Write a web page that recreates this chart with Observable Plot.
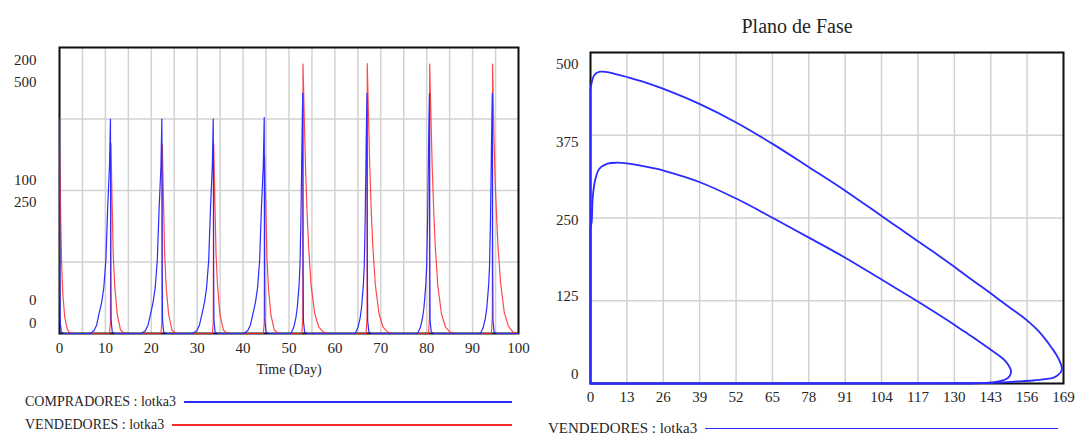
<!DOCTYPE html>
<html><head><meta charset="utf-8">
<script src="https://cdn.jsdelivr.net/npm/d3@7"></script>
<script src="https://cdn.jsdelivr.net/npm/@observablehq/plot@0.6"></script>
<style>
body{margin:0;background:#fff;}
#root{position:relative;width:1076px;height:436px;overflow:hidden;font-family:"Liberation Serif","Times New Roman",serif;color:#262626;background:#fff;}
.abs{position:absolute;}
.leg{position:absolute;display:flex;align-items:center;white-space:nowrap;line-height:1;}
.leg .ln{flex:1;margin-left:8px;height:1.5px;}
</style></head><body>
<div id="root">
  <div id="left" class="abs" style="left:0;top:0"></div>
  <div id="right" class="abs" style="left:530px;top:0"></div>
  <div id="title" class="abs" style="left:697px;top:16px;width:200px;text-align:center;font-size:20px;line-height:20px;"></div>
  <div id="leg1" class="leg" style="left:25px;top:395px;width:487px;height:14px;font-size:14px;"></div>
  <div id="leg2" class="leg" style="left:25px;top:418px;width:487px;height:14px;font-size:14px;"></div>
  <div id="leg3" class="leg" style="left:548px;top:421px;width:510px;height:15px;font-size:15px;"></div>
</div>
<script>
// ---------- data ----------
const chartTitle = "Plano de Fase";
const xTitle = "Time (Day)";
const seriesNames = ["COMPRADORES : lotka3", "VENDEDORES : lotka3"];
const phaseLegend = "VENDEDORES : lotka3";

const timeTicks = [0,10,20,30,40,50,60,70,80,90,100];
const compScaleLabels = [0,100,200];   // COMPRADORES scale (blue)
const vendScaleLabels = [0,250,500];   // VENDEDORES scale (red)
const phaseXTicks = [0,13,26,39,52,65,78,91,104,117,130,143,156,169];
const phaseYTicks = [0,125,250,375,500];

// COMPRADORES (blue) over time
const compT = [0,0.08,0.15,0.4,1,
  6.6,7.5,8.1,8.6,9.2,9.65,10.1,10.5,10.9,11.1,11.18,11.25,11.5,12.1,
  17.8,18.7,19.3,19.8,20.4,20.85,21.3,21.7,22.1,22.3,22.38,22.45,22.7,23.3,
  29,29.9,30.5,31,31.6,32.05,32.5,32.9,33.3,33.5,33.58,33.65,33.9,34.5,
  40.1,41,41.6,42.1,42.7,43.15,43.6,44,44.4,44.6,44.68,44.75,45,45.6,
  50.4,51,51.5,51.8,52.2,52.4,52.6,52.8,52.9,53.0,53.07,53.14,53.4,54,
  64.4,65,65.5,65.8,66.2,66.4,66.6,66.8,66.9,67.0,67.07,67.14,67.4,68,
  78,78.6,79.1,79.4,79.8,80,80.2,80.4,80.5,80.6,80.67,80.74,81,81.6,
  91.7,92.3,92.8,93.1,93.5,93.7,93.9,94.1,94.2,94.3,94.37,94.44,94.7,95.3,100];
const compV = [150,40,8,1,0,
  0,2,6,13.8,22,32,51,88,118,150,45,9,1,0,
  0,2,6,13,22,32,51,87,117,150,45,9,1,0,
  0,2,6,13,22,32,51,88,118,150,45,9,1,0,
  0,2,6,13,22,32,51,88,118,151,45,9,1,0,
  0,4,11,18,34,48,80,128,150,168,50,9,1,0,
  0,4,11,18,34,48,80,128,150,168,50,9,1,0,
  0,4,11,18,34,48,80,128,150,168,50,9,1,0,
  0,4,11,18,34,48,80,128,150,168,50,9,1,0,0];

// VENDEDORES (red) over time
const vendT = [0,0.2,0.44,0.72,1.15,1.67,2.2,3,
  10.9,11.1,11.2,11.47,11.7,12.05,12.57,13.3,14,15,
  22.1,22.3,22.4,22.67,22.9,23.25,23.77,24.5,25.2,26.2,
  33.3,33.5,33.6,33.87,34.1,34.45,34.97,35.7,36.4,37.4,
  44.4,44.6,44.7,44.97,45.2,45.55,46.07,46.8,47.5,48.5,
  52.8,53.0,53.05,53.35,53.6,53.95,54.25,54.8,55.6,56.5,57.5,58.5,
  66.8,67.0,67.05,67.35,67.6,67.95,68.25,68.8,69.6,70.5,71.5,72.5,
  80.4,80.6,80.65,80.95,81.2,81.55,81.85,82.4,83.2,84.1,85.1,86.1,
  94.1,94.3,94.35,94.65,94.9,95.25,95.55,96.1,96.9,97.8,98.8,99.8,100];
const vendV = [323,232,128,69,28,8,1,0,
  0,20,332,227,139,81,34,6,1,0,
  0,20,331,228,140,80,34,6,1,0,
  0,20,332,226,139,81,33,6,1,0,
  0,18,311,215,132,77,32,6,1,0,
  0,29,471,370,290,210,155,85,35,11,2.5,0,
  0,29,472,368,292,208,154,86,35,11,2.5,0,
  0,29,471,370,290,210,155,85,35,11,2.5,0,
  0,29,471,345,270,200,150,88,37,13,2.5,0,0];

// Phase plane loops (horizontal value, vertical value)
const innerX = [0,135,140,143,146.3,149,150,150.2,149.3,148,146,143,140,135,130.1,123.5,117.1,110.9,104,91,78.2,65.2,52.2,39.1,26.1,22.8,17,13,9.5,6.1,3.1,1.6,0.8,0.4,0,0];
const innerY = [0,0,0.5,1.5,3.5,8,13,20,28,35,42,51,60,74.5,88.5,106.5,123.5,139.5,157,190,220,250,279,304,321.5,325,330,332.5,333.5,332,324,306,281,243.5,236,0];
const outerX = [0,140,146,152.5,158,162.4,165.5,167.4,168.4,168,166.5,164.5,162.5,160,157,154,151,146.5,143.2,136.5,130.1,122.1,117.1,110.5,104,91,78.2,65.2,52.2,39.1,26.1,19.5,13,9,6.1,3.5,2,1.1,0.4,0,0];
const outerY = [0,0.5,1.5,3,4.5,6.5,9,14,21,30,43,55.5,67,79.5,91.5,102,111,125,135.5,156,176,200,214.5,234,253,291.3,326.4,361.6,394,422,445,455,463,467.5,470.5,471,468.5,464,454,444,0];

// ---------- styling ----------
const BLUE = "#2b2bff", RED = "#ff2a2a", GRID = "#d2d2d2", TXT = "#262626";
const FONT = "'Liberation Serif','Times New Roman',serif";
const ratio = vendScaleLabels[2] / compScaleLabels[2];

const comp = compT.map((t,i) => ({t, v: compV[i]}));
const vend = vendT.map((t,i) => ({t, v: vendV[i]}));
const toPts = (X, Y) => X.map((x,i) => ({x, y: Y[i]}));
const inner = toPts(innerX, innerY);
const outer = toPts(outerX, outerY);
// curved arcs (off the axes) and straight axis segments
const arc = p => p.slice(1, p.length - 1);
const axisSeg = p => [p[p.length - 2], p[p.length - 1], p[0], p[1]];

const compDy = [-33, -10, 13];
const vendDy = [-10, 12, 35];
const leftLabelMarks = [
  ...compScaleLabels.map((v,i) => Plot.text([v], {y: d => d*ratio, text: d => String(d), frameAnchor: "left", textAnchor: "end", dx: -23, dy: compDy[i], fill: TXT})),
  ...vendScaleLabels.map((v,i) => Plot.text([v], {y: d => d, text: d => String(d), frameAnchor: "left", textAnchor: "end", dx: -23, dy: vendDy[i], fill: TXT}))
];

const left = Plot.plot({
  width: 530, height: 390,
  marginLeft: 59, marginRight: 12, marginTop: 47, marginBottom: 57,
  style: {fontFamily: FONT, fontSize: "15px", color: TXT, background: "transparent", overflow: "visible"},
  x: {domain: [0,100], axis: null},
  y: {domain: [0,500], axis: null},
  marks: [
    Plot.gridX({ticks: d3.range(0,101,5), stroke: GRID, strokeOpacity: 1, strokeWidth: 1.5}),
    Plot.gridY({ticks: [0,125,250,375,500], stroke: GRID, strokeOpacity: 1, strokeWidth: 1.5}),
    Plot.frame({stroke: "#111", strokeWidth: 2}),
    Plot.line(vend, {x: "t", y: "v", stroke: RED, strokeWidth: 1.2, strokeOpacity: 0.85}),
    Plot.line(comp, {x: "t", y: d => d.v * ratio, stroke: BLUE, strokeWidth: 1.2}),
    Plot.text(timeTicks, {x: d => d, text: d => String(d), frameAnchor: "bottom", dy: 19, fill: TXT}),
    Plot.text([xTitle], {frameAnchor: "bottom", dy: 40, fontSize: 14, fill: TXT}),
    ...leftLabelMarks
  ]
});
document.getElementById("left").append(left);

const phaseDy = [-9.7, -4.5, 1.8, 7, 11.3];
const right = Plot.plot({
  width: 546, height: 415,
  marginLeft: 60, marginRight: 13, marginTop: 52, marginBottom: 32,
  style: {fontFamily: FONT, fontSize: "15px", color: TXT, background: "transparent", overflow: "visible"},
  x: {domain: [0,169], axis: null},
  y: {domain: [0,500], axis: null},
  marks: [
    Plot.gridX({ticks: phaseXTicks, stroke: GRID, strokeOpacity: 1, strokeWidth: 1.5}),
    Plot.gridY({ticks: phaseYTicks, stroke: GRID, strokeOpacity: 1, strokeWidth: 1.5}),
    Plot.frame({stroke: "#111", strokeWidth: 2}),
    Plot.line(axisSeg(inner), {x: "x", y: "y", stroke: BLUE, strokeWidth: 1.8}),
    Plot.line(axisSeg(outer), {x: "x", y: "y", stroke: BLUE, strokeWidth: 1.8}),
    Plot.line(arc(inner), {x: "x", y: "y", stroke: BLUE, strokeWidth: 1.8, curve: "catmull-rom"}),
    Plot.line(arc(outer), {x: "x", y: "y", stroke: BLUE, strokeWidth: 1.8, curve: "catmull-rom"}),
    Plot.text(phaseXTicks, {x: d => d, text: d => String(d), frameAnchor: "bottom", dy: 18, fill: TXT}),
    ...phaseYTicks.map((v,i) => Plot.text([v], {y: d => d, text: d => String(d), frameAnchor: "left", textAnchor: "end", dx: -12, dy: phaseDy[i], fill: TXT}))
  ]
});
document.getElementById("right").append(right);

document.getElementById("title").textContent = chartTitle;
function legend(id, name, color) {
  const el = document.getElementById(id);
  const s = document.createElement("span"); s.textContent = name;
  const l = document.createElement("span"); l.className = "ln"; l.style.background = color;
  el.append(s, l);
}
legend("leg1", seriesNames[0], BLUE);
legend("leg2", seriesNames[1], RED);
legend("leg3", phaseLegend, BLUE);
</script>
</body></html>
